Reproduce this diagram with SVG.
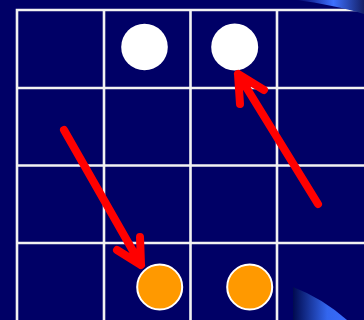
<svg xmlns="http://www.w3.org/2000/svg" width="364" height="320" viewBox="0 0 364 320">
  <defs>
    <linearGradient id="gTop" x1="296" y1="0" x2="364" y2="0" gradientUnits="userSpaceOnUse">
      <stop offset="0" stop-color="#000066"/>
      <stop offset="0.55" stop-color="#3d70ff"/>
      <stop offset="1" stop-color="#141f66"/>
    </linearGradient>
    <linearGradient id="gBot" x1="293" y1="0" x2="350" y2="0" gradientUnits="userSpaceOnUse">
      <stop offset="0" stop-color="#000a50"/>
      <stop offset="0.6" stop-color="#3366ee"/>
      <stop offset="1" stop-color="#3a6cff"/>
    </linearGradient>
    <style>
      .grid { stroke: #f2f2f2; stroke-width: 2.6; fill: none; }
      .white { fill: #ffffff; }
      .orange { fill: #ff9900; stroke: #ffffff; stroke-width: 2; }
      .arrow { stroke: #ff0000; stroke-width: 8; fill: none; stroke-linecap: round; stroke-linejoin: round; }
    </style>
  </defs>
  <rect x="0" y="0" width="364" height="320" fill="#000066"/>
  <g id="grid">
    <path class="grid" d="M17 320 V10 H364 M104 10 V320 M190.5 10 V320 M277 10 V320 M17 88 H364 M17 165.5 H364 M17 243 H364"/>
  </g>
  <path d="M296 0 H364 V14 C345 8 320 3 296 0 Z" fill="url(#gTop)"/>
  <path d="M293 287 Q322 298 347 320 H293 Z" fill="url(#gBot)"/>
  <g id="white-1"><circle class="white" cx="144.5" cy="47" r="23.3"/></g>
  <g id="white-2"><circle class="white" cx="234.7" cy="47" r="23.5"/></g>
  <g id="orange-1"><circle class="orange" cx="159.7" cy="287" r="22.5"/></g>
  <g id="orange-2"><circle class="orange" cx="249.7" cy="287" r="22.5"/></g>
  <g id="connectors">
    <path class="arrow" d="M64 130 L141 265 M117 250 L141 265 L140 237"/>
    <path class="arrow" d="M318 204 L238 74 M240 104 L238 74 L264 90"/>
  </g>
</svg>
